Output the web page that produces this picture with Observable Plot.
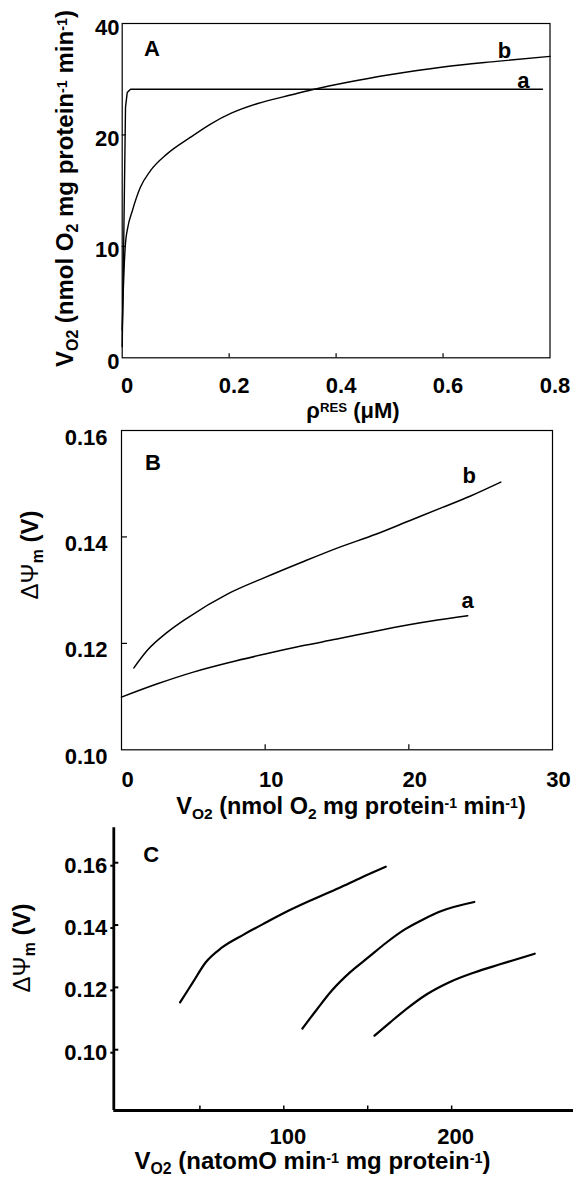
<!DOCTYPE html>
<html><head><meta charset="utf-8">
<script src="https://cdn.jsdelivr.net/npm/d3@7"></script>
<script src="https://cdn.jsdelivr.net/npm/@observablehq/plot@0.6"></script>
<style>
body{margin:0;background:#fff;}
#wrap{position:relative;width:576px;height:1182px;overflow:hidden;background:#fff;}
#wrap svg{position:absolute;left:0;}
</style></head><body><div id="wrap"></div>
<script>
// ---------- Panel A data ----------
const aX_A = [0, 0.003, 0.0062, 0.0094, 0.0156, 0.05, 0.786];
const aY_A = [1.0, 11.0, 22.5, 23.8, 24.1, 24.1, 24.1];
const bX_A = [0, 0.002, 0.004, 0.006, 0.01, 0.019, 0.034, 0.053, 0.084, 0.128, 0.166, 0.204, 0.252, 0.321, 0.355, 0.424, 0.5, 0.6, 0.7, 0.8];
const bY_A = [2.5, 6.0, 8.5, 10.2, 11.6, 13.2, 15.3, 16.8, 18.3, 19.8, 21.0, 21.95, 22.8, 23.65, 24.05, 24.75, 25.4, 26.1, 26.6, 27.05];
const xTicksA = [0, 0.2, 0.4, 0.6, 0.8];
const xTickLabelsA = ["0", "0.2", "0.4", "0.6", "0.8"];
const yTicksA = [0, 10, 20, 30];
const yTickLabelsA = ["0", "10", "20", "40"];
const curveLabelsA = ["a", "b"];
const curveLabelXA = [0.750, 0.715];
const curveLabelYA = [24.8, 27.5];

// ---------- Panel B data ----------
const aX_B = [0, 2.5, 5, 7.5, 10, 12.5, 15, 17.5, 20, 22, 24.1];
const aY_B = [0.1099, 0.1124, 0.1146, 0.1164, 0.1180, 0.1195, 0.1208, 0.1222, 0.1235, 0.1244, 0.1252];
const bX_B = [0.86, 1.8, 3.2, 4.6, 7.4, 10, 12.5, 15.1, 17.7, 20, 22.3, 24.3, 26.4];
const bY_B = [0.1154, 0.1187, 0.1221, 0.1248, 0.1293, 0.1324, 0.1352, 0.1380, 0.1405, 0.1430, 0.1455, 0.1477, 0.1503];
const xTicksB = [0, 10, 20, 30];
const xTickLabelsB = ["0", "10", "20", "30"];
const yTicksB = [0.10, 0.12, 0.14, 0.16];
const yTickLabelsB = ["0.10", "0.12", "0.14", "0.16"];
const curveLabelsB = ["a", "b"];
const curveLabelXB = [24.1, 24.2];
const curveLabelYB = [0.128, 0.1514];

// ---------- Panel C data ----------
const c1X = [38.2, 45.8, 53.4, 63.2, 76.3, 89.3, 102.4, 117.6, 132.9, 146, 160.7];
const c1Y = [0.1152, 0.1216, 0.1280, 0.1328, 0.1370, 0.1408, 0.1445, 0.1483, 0.1519, 0.1552, 0.1587];
const c2X = [111.1, 119.8, 128.5, 139.4, 150.3, 161.2, 172.1, 183, 193.9, 213.5];
const c2Y = [0.1068, 0.1130, 0.1189, 0.1248, 0.1296, 0.1344, 0.1386, 0.1418, 0.1445, 0.1474];
const c3X = [154, 163.4, 174.3, 185.2, 198.3, 213.5, 228.8, 249.5];
const c3Y = [0.1045, 0.1088, 0.1136, 0.1178, 0.1216, 0.1248, 0.1274, 0.1308];
const xTicksC = [50, 100, 150, 200];
const xTickLabelsC = ["", "100", "", "200"];
const yTicksC = [0.10, 0.12, 0.14, 0.16];
const yTickLabelsC = ["0.10", "0.12", "0.14", "0.16"];
const xDomainC = [-1.3, 272.6];
const yDomainC = [0.0805, 0.1712];

// ---------- text ----------
const yLabelA = [["V","n"],["O2","sub"],[" (nmol O","n"],["2","sub"],[" mg protein","n"],["-1","sup"],[" min","n"],["-1","sup"],[")","n"]];
const xLabelA = [["ρ","n"],["RES","sup"],[" (μM)","n"]];
const yLabelB = [["ΔΨ","g"],["m","sub"],[" (V)","n"]];
const xLabelB = [["V","n"],["O2","sub"],[" (nmol O","n"],["2","sub"],[" mg protein","n"],["-1","sup"],[" min","n"],["-1","sup"],[")","n"]];
const yLabelC = [["ΔΨ","g"],["m","sub"],[" (V)","n"]];
const xLabelC = [["V","n"],["O2","sub"],[" (natomO min","n"],["-1","sup"],[" mg protein","n"],["-1","sup"],[")","n"]];

const FONT = "'Liberation Sans', Arial, Helvetica, sans-serif";
const FS = 22;
const LS = 24;
const baseStyle = {fontFamily: FONT, fontSize: FS + "px", fontWeight: "bold", color: "black", background: "white", overflow: "visible"};

const zip = (xs, ys) => xs.map((x, i) => ({x, y: ys[i]}));
const fmt = (ticks, labels) => d => labels[ticks.findIndex(t => Math.abs(t - d) < 1e-9)];

function richText(svg, parts, {x, y, rotate = false, size = LS}) {
  const t = d3.select(svg).append("text")
    .attr("text-anchor", "middle")
    .attr("font-family", FONT)
    .attr("font-weight", "bold")
    .attr("font-size", size)
    .attr("fill", "black")
    .attr("transform", `translate(${x},${y})` + (rotate ? " rotate(-90)" : ""));
  let shift = 0;
  for (const [s, kind] of parts) {
    let target = 0, fs = size, fw = "bold";
    if (kind === "sub") { target = 5; fs = size * 0.66; }
    if (kind === "sup") { target = -6; fs = size * 0.6; }
    if (kind === "g") { fw = "normal"; }
    t.append("tspan").attr("dy", target - shift).attr("font-size", fs).attr("font-weight", fw).text(s);
    shift = target;
  }
}

const wrap = document.getElementById("wrap");

// ---------- Panel A ----------
const HA = 425 - 23 - 67.7, WA = 576 - 121.7 - 26.5;
const plotA = Plot.plot({
  width: 576, height: 425,
  marginTop: 23, marginBottom: 67.7, marginLeft: 121.7, marginRight: 26.5,
  x: {domain: [0, 0.8]},
  y: {domain: [0, 30]},
  style: baseStyle,
  marks: [
    Plot.frame({strokeWidth: 1.2}),
    Plot.tickX(xTicksA.slice(1, -1), {x: d => d, insetTop: HA - 4, strokeWidth: 1.2}),
    Plot.tickY(yTicksA.slice(1, -1), {y: d => d, insetRight: WA - 4, strokeWidth: 1.2}),
    Plot.axisX({ticks: xTicksA, tickFormat: fmt(xTicksA, xTickLabelsA), tickSize: 0, tickPadding: 19.7, dx: 5, label: null, fontSize: FS, fontWeight: "bold"}),
    Plot.axisY({ticks: yTicksA, tickFormat: fmt(yTicksA, yTickLabelsA), tickSize: 0, tickPadding: 2.7, dy: 4, label: null, fontSize: FS, fontWeight: "bold"}),
    Plot.line(zip(aX_A, aY_A), {x: "x", y: "y", stroke: "black", strokeWidth: 1.4}),
    Plot.line(zip(bX_A, bY_A), {x: "x", y: "y", stroke: "black", strokeWidth: 1.4, curve: "monotone-x"}),
    Plot.text(curveLabelsA.map((t, i) => ({t, x: curveLabelXA[i], y: curveLabelYA[i]})), {x: "x", y: "y", text: "t", fontSize: FS, fontWeight: "bold"}),
    Plot.text(["A"], {frameAnchor: "top-left", dx: 29.8, dy: 25.5, textAnchor: "middle", lineAnchor: "middle", fontSize: FS, fontWeight: "bold"})
  ]
});
plotA.style.top = "0px";
wrap.appendChild(plotA);
richText(plotA, yLabelA, {x: 73, y: 188.5, rotate: true});
richText(plotA, xLabelA, {x: 353, y: 418, size: 22});

// ---------- Panel B ----------
const HB = 395 - 5 - 70.7, WB = 576 - 121 - 24;
const plotB = Plot.plot({
  width: 576, height: 395,
  marginTop: 5, marginBottom: 70.7, marginLeft: 121, marginRight: 24,
  x: {domain: [0, 30]},
  y: {domain: [0.10, 0.16]},
  style: baseStyle,
  marks: [
    Plot.frame({strokeWidth: 1.2}),
    Plot.tickX(xTicksB.slice(1, -1), {x: d => d, insetTop: HB - 5, strokeWidth: 1.2}),
    Plot.tickY(yTicksB.slice(1, -1), {y: d => d, insetRight: WB - 6, strokeWidth: 1.2}),
    Plot.axisX({ticks: xTicksB, tickFormat: fmt(xTicksB, xTickLabelsB), tickSize: 0, tickPadding: 21.4, dx: 6, label: null, fontSize: FS, fontWeight: "bold"}),
    Plot.axisY({ticks: yTicksB, tickFormat: fmt(yTicksB, yTickLabelsB), tickSize: 0, tickPadding: 14, dy: 7, label: null, fontSize: FS, fontWeight: "bold"}),
    Plot.line(zip(aX_B, aY_B), {x: "x", y: "y", stroke: "black", strokeWidth: 1.5, curve: "monotone-x"}),
    Plot.line(zip(bX_B, bY_B), {x: "x", y: "y", stroke: "black", strokeWidth: 1.5, curve: "monotone-x"}),
    Plot.text(curveLabelsB.map((t, i) => ({t, x: curveLabelXB[i], y: curveLabelYB[i]})), {x: "x", y: "y", text: "t", fontSize: FS, fontWeight: "bold"}),
    Plot.text(["B"], {frameAnchor: "top-left", dx: 31.5, dy: 32.5, textAnchor: "middle", lineAnchor: "middle", fontSize: FS, fontWeight: "bold"})
  ]
});
plotB.style.top = "425px";
wrap.appendChild(plotB);
richText(plotB, yLabelB, {x: 38, y: 130, rotate: true});
richText(plotB, xLabelB, {x: 351, y: 388.5, size: 23.5});

// ---------- Panel C ----------
const HC = 362 - 7.3 - 72, WC = 576 - 113.3 - 3;
const plotC = Plot.plot({
  width: 576, height: 362,
  marginTop: 7.3, marginBottom: 72, marginLeft: 113.3, marginRight: 3,
  x: {domain: xDomainC},
  y: {domain: yDomainC},
  style: baseStyle,
  marks: [
    Plot.ruleX([xDomainC[0]], {stroke: "black", strokeWidth: 2.8}),
    Plot.ruleY([yDomainC[0]], {stroke: "black", strokeWidth: 2.8}),
    Plot.tickX(xTicksC, {x: d => d, insetTop: HC - 4.5, strokeWidth: 1.5}),
    Plot.tickY(yTicksC, {y: d => d, insetRight: WC - 5, strokeWidth: 2}),
    Plot.axisX({ticks: xTicksC, tickFormat: fmt(xTicksC, xTickLabelsC), tickSize: 0, tickPadding: 18.3, dx: 4, label: null, fontSize: FS, fontWeight: "bold"}),
    Plot.axisY({ticks: yTicksC, tickFormat: fmt(yTicksC, yTickLabelsC), tickSize: 3, tickPadding: 3.6, dy: 3, strokeWidth: 2, label: null, fontSize: FS, fontWeight: "bold"}),
    Plot.line(zip(c1X, c1Y), {x: "x", y: "y", stroke: "black", strokeWidth: 2.2, curve: "monotone-x"}),
    Plot.line(zip(c2X, c2Y), {x: "x", y: "y", stroke: "black", strokeWidth: 2.2, curve: "monotone-x"}),
    Plot.line(zip(c3X, c3Y), {x: "x", y: "y", stroke: "black", strokeWidth: 2.2, curve: "monotone-x"}),
    Plot.text(["C"], {frameAnchor: "top-left", dx: 37.4, dy: 26.7, textAnchor: "middle", lineAnchor: "middle", fontSize: FS, fontWeight: "bold"})
  ]
});
plotC.style.top = "820px";
wrap.appendChild(plotC);
richText(plotC, yLabelC, {x: 30, y: 128, rotate: true});
richText(plotC, xLabelC, {x: 312.5, y: 349});
</script>
</body></html>
